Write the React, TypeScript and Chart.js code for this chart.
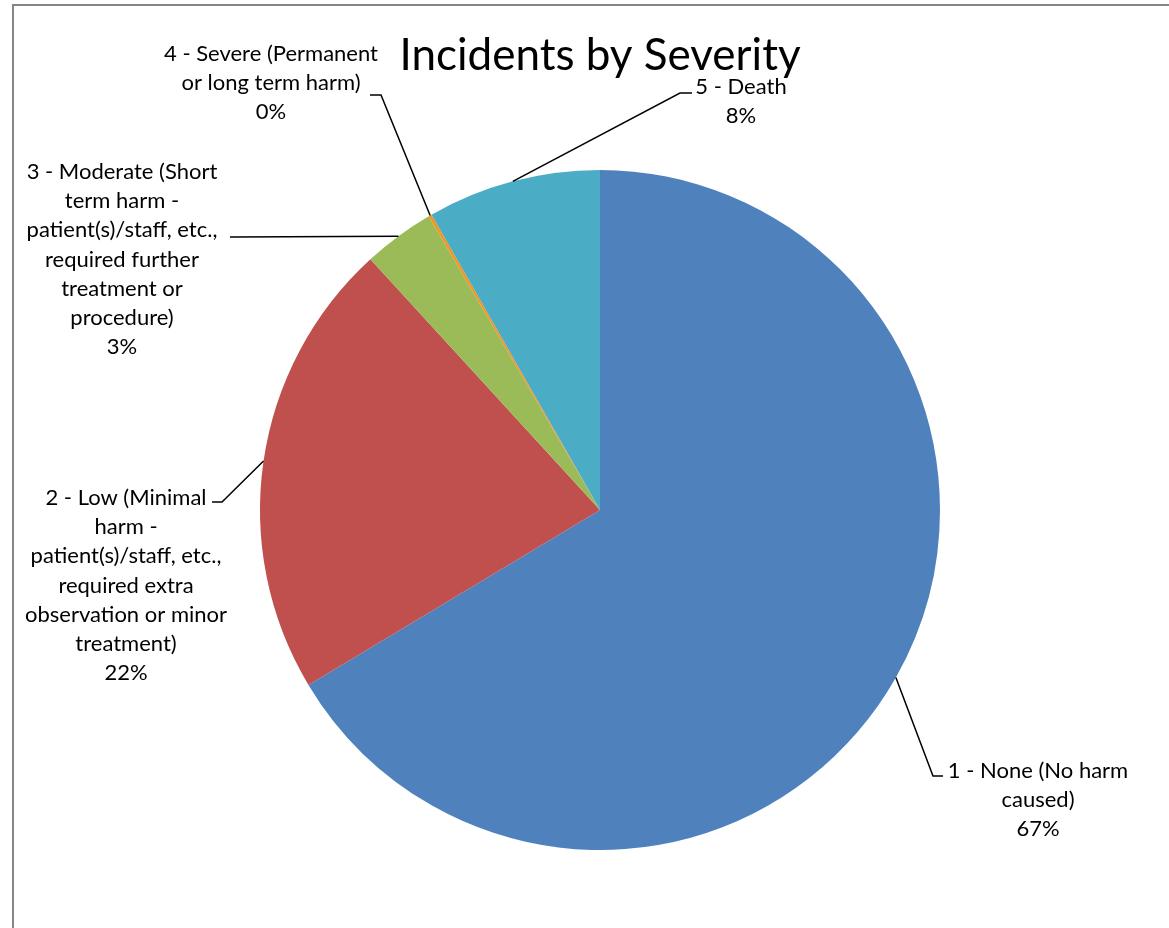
import React, { useEffect, useRef } from "react";
import { Chart, registerables } from "chart.js";

Chart.register(...registerables);

const TITLE = "Incidents by Severity";
const categories = [
  "1 - None (No harm caused)",
  "2 - Low (Minimal harm - patient(s)/staff, etc., required extra observation or minor treatment)",
  "3 - Moderate (Short term harm - patient(s)/staff, etc., required further treatment or procedure)",
  "4 - Severe (Permanent or long term harm)",
  "5 - Death",
];
const values = [66.4, 21.8, 3.4, 0.15, 8.25];
const percentLabels = ["67%", "22%", "3%", "0%", "8%"];
const labelLines = [
  ["1 - None (No harm", "caused)"],
  ["2 - Low (Minimal", "harm -", "patient(s)/staff, etc.,", "required extra", "observation or minor", "treatment)"],
  ["3 - Moderate (Short", "term harm -", "patient(s)/staff, etc.,", "required further", "treatment or", "procedure)"],
  ["4 - Severe (Permanent", "or long term harm)"],
  ["5 - Death"],
];
const colors = ["#4F81BD", "#C0504D", "#9BBB59", "#F7941E", "#4BACC6"];

// label layout: elbow point, end of leader, text centre x, first baseline
const labelLayout = [
  { elbow: [933, 776], end: [943, 776], tx: 1038, by: 778 },
  { elbow: [222, 502], end: [212, 502], tx: 126, by: 505 },
  { elbow: [232, 237], end: [230, 237], tx: 122, by: 179 },
  { elbow: [381, 95], end: [370, 95], tx: 271, by: 61 },
  { elbow: [680, 93], end: [692, 93], tx: 741, by: 94 },
];

const FONT = "Lato, 'Open Sans', sans-serif";

const decorPlugin = {
  id: "decor",
  beforeDraw(chart: any) {
    const ctx = chart.ctx;
    ctx.save();
    ctx.fillStyle = "#ffffff";
    ctx.fillRect(0, 0, chart.width, chart.height);
    ctx.strokeStyle = "#868686";
    ctx.lineWidth = 2;
    ctx.beginPath();
    ctx.moveTo(13, chart.height + 5);
    ctx.lineTo(13, 5);
    ctx.lineTo(chart.width + 5, 5);
    ctx.stroke();
    ctx.restore();
  },
  afterDraw(chart: any) {
    const ctx = chart.ctx;
    const meta = chart.getDatasetMeta(0);
    ctx.save();
    // title
    ctx.fillStyle = "#000000";
    ctx.font = `44px ${FONT}`;
    ctx.textAlign = "center";
    ctx.textBaseline = "alphabetic";
    ctx.fillText(TITLE, 600, 70);

    meta.data.forEach((arc: any, i: number) => {
      const lay = labelLayout[i];
      const mid = (arc.startAngle + arc.endAngle) / 2;
      const sx = arc.x + arc.outerRadius * Math.cos(mid);
      const sy = arc.y + arc.outerRadius * Math.sin(mid);
      ctx.strokeStyle = "#000000";
      ctx.lineWidth = 1.5;
      ctx.beginPath();
      ctx.moveTo(sx, sy);
      ctx.lineTo(lay.elbow[0], lay.elbow[1]);
      ctx.lineTo(lay.end[0], lay.end[1]);
      ctx.stroke();

      const lines = [...labelLines[i], percentLabels[i]];
      ctx.font = `22px ${FONT}`;
      ctx.fillStyle = "#000000";
      ctx.textAlign = "center";
      lines.forEach((t, k) => {
        ctx.fillText(t, lay.tx, lay.by + k * 29.2);
      });
    });
    ctx.restore();
  },
};

export default function App() {
  const ref = useRef<HTMLCanvasElement>(null);
  useEffect(() => {
    if (!ref.current) return;
    const chart = new Chart(ref.current, {
      type: "pie",
      data: {
        labels: categories,
        datasets: [
          {
            data: values,
            backgroundColor: colors,
            borderWidth: 0,
            hoverOffset: 0,
            offset: 0,
          },
        ],
      },
      options: {
        animation: false,
        responsive: false,
        layout: { padding: { left: 260, right: 229, top: 170, bottom: 78 } },
        plugins: {
          legend: { display: false },
          title: { display: false },
          tooltip: { enabled: false },
        },
      },
      plugins: [decorPlugin],
    });
    return () => chart.destroy();
  }, []);
  return (
    <div style={{ position: "absolute", left: 0, top: 0, width: 1169, height: 928, overflow: "hidden" }}>
      <canvas ref={ref} width={1169} height={928} style={{ display: "block" }} />
    </div>
  );
}
